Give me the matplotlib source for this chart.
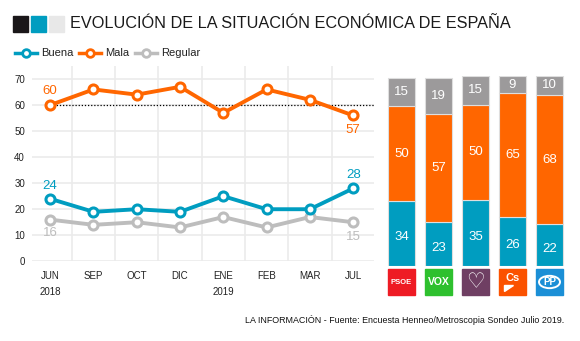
import matplotlib
matplotlib.use('Agg')
import matplotlib.pyplot as plt
from matplotlib.patches import Rectangle, Circle

plt.rcParams['font.family'] = ['Liberation Sans', 'DejaVu Sans']

# Datos
meses = ['JUN\n2018', 'SEP', 'OCT', 'DIC', 'ENE\n2019', 'FEB', 'MAR', 'JUL']
buena = [24, 19, 20, 19, 25, 20, 20, 28]
mala = [60, 66, 64, 67, 57, 66, 62, 56]
regular = [16, 14, 15, 13, 17, 13, 17, 15]
# etiquetas de inicio y fin (tal como aparecen en el gráfico)
etiq_buena = ['24', '28']
etiq_mala = ['60', '57']
etiq_regular = ['16', '15']

partidos = ['PSOE', 'VOX', 'Podemos', 'Cs', 'PP']
bar_buena = [34, 23, 35, 26, 22]
bar_mala = [50, 57, 50, 65, 68]
bar_regular = [15, 19, 15, 9, 10]

c_buena = '#009dc0'
c_mala = '#ff6600'
c_regular = '#bdbdbd'
c_regular_bar = '#9c9a9b'

W, H = 580, 341
fig = plt.figure(figsize=(W / 100, H / 100), dpi=100)


def fx(px):
    return px / W


def fy(py):
    return 1 - py / H


# Cabecera
for i, col in enumerate(['#1a1719', c_buena, '#e8e8e8']):
    fig.add_artist(Rectangle((fx(13 + i * 18), fy(32)), fx(15), 16 / H, color=col,
                             transform=fig.transFigure))
fig.text(fx(70), fy(24), 'EVOLUCIÓN DE LA SITUACIÓN ECONÓMICA DE ESPAÑA',
         fontsize=11.7, color='#1a1a1a', va='center', ha='left')

# Leyenda
leyenda = [('Buena', c_buena, 15), ('Mala', c_mala, 79), ('Regular', c_regular, 135)]
for nombre, col, x0 in leyenda:
    fig.add_artist(plt.Line2D([fx(x0), fx(x0 + 22)], [fy(53), fy(53)], color=col, lw=2.5,
                              transform=fig.transFigure))
    fig.add_artist(plt.Line2D([fx(x0 + 11)], [fy(53)], marker='o', ms=5.5, mfc='white',
                              mec=col, mew=2, transform=fig.transFigure))
    fig.text(fx(x0 + 26), fy(53), nombre, fontsize=8, va='center', ha='left', color='#222222')

# Gráfico de líneas
y0, y_top = 261.3, 66
ax = fig.add_axes([fx(32), fy(y0), fx(374 - 32), (y0 - y_top) / H])
x = range(len(meses))
for serie, col in [(regular, c_regular), (buena, c_buena), (mala, c_mala)]:
    ax.plot(x, serie, color=col, lw=2.8, marker='o', ms=6.5, mfc='white', mec=col, mew=2.2,
            zorder=3, clip_on=False)
ax.plot([0, 7.5], [60, 60], color='black', lw=0.9, ls=(0, (1, 1.5)), zorder=2)

ax.set_xlim(-0.42, 7.48)
ax.set_ylim(0, 75)
ax.set_yticks(range(0, 71, 10))
ax.set_xticks(list(x))
ax.set_xticklabels(meses, fontsize=7, linespacing=1.75, va='top', color='#222222')
ax.set_xticks([i + 0.5 for i in range(7)], minor=True)
ax.tick_params(axis='y', labelsize=7, length=0, pad=5, colors='#222222')
ax.tick_params(axis='x', which='both', length=0, pad=7)
ax.grid(axis='y', color='#ebebeb', lw=1.2)
ax.grid(axis='x', which='minor', color='#ebebeb', lw=1.2)
for s in ax.spines.values():
    s.set_visible(False)

# Etiquetas de inicio y fin
ax.text(0, 60 + 5.5, etiq_mala[0], color=c_mala, fontsize=9.5, ha='center', va='center')
ax.text(7, mala[-1] - 5.5, etiq_mala[1], color=c_mala, fontsize=9.5, ha='center', va='center')
ax.text(0, buena[0] + 5, etiq_buena[0], color=c_buena, fontsize=9.5, ha='center', va='center')
ax.text(7, buena[-1] + 5, etiq_buena[1], color=c_buena, fontsize=9.5, ha='center', va='center')
ax.text(0, regular[0] - 5.3, etiq_regular[0], color=c_regular, fontsize=9.5, ha='center', va='center')
ax.text(7, regular[-1] - 5.5, etiq_regular[1], color=c_regular, fontsize=9.5, ha='center', va='center')

# Barras apiladas por partido
bx = fig.add_axes([fx(383), fy(266), fx(185), 190 / H])
pos = range(len(partidos))
ancho = 0.73
bot2 = [a + b for a, b in zip(bar_buena, bar_mala)]
bx.bar(pos, bar_buena, width=ancho, color=c_buena, edgecolor='#dedede', lw=0.8)
bx.bar(pos, bar_mala, width=ancho, bottom=bar_buena, color=c_mala, edgecolor='#dedede', lw=0.8)
bx.bar(pos, bar_regular, width=ancho, bottom=bot2, color=c_regular_bar, edgecolor='#dedede', lw=0.8)
for i in pos:
    bx.text(i, bar_buena[i] / 2 - 2, str(bar_buena[i]), color='white', fontsize=9.5, ha='center', va='center')
    bx.text(i, bar_buena[i] + bar_mala[i] / 2, str(bar_mala[i]), color='white', fontsize=9.5, ha='center', va='center')
    bx.text(i, bot2[i] + bar_regular[i] / 2, str(bar_regular[i]), color='white', fontsize=9.5, ha='center', va='center')
bx.set_xlim(-0.5, 4.5)
bx.set_ylim(0, 100)
bx.axis('off')

# Logotipos (aproximados)
logo_col = ['#ee1b24', '#2ec02e', '#6f3f63', '#fb5200', '#1b8fd6']
for i, col in enumerate(logo_col):
    cx = 401.5 + 37 * i
    fig.add_artist(Rectangle((fx(cx - 13.5), fy(295)), fx(27), 26 / H, color=col,
                             transform=fig.transFigure))
cy = fy(282)
fig.text(fx(401.5), cy, 'PSOE', color='white', fontsize=5.5, fontweight='bold', ha='center', va='center')
fig.text(fx(438.5), cy, 'VOX', color='white', fontsize=7.5, fontweight='bold', ha='center', va='center')
fig.text(fx(475.5), cy, '♡', color='white', fontsize=15, ha='center', va='center', family='DejaVu Sans')
fig.text(fx(512.5), fy(278), 'Cs', color='white', fontsize=8, fontweight='bold', ha='center', va='center')
fig.add_artist(plt.Polygon([[fx(504), fy(291)], [fx(504), fy(285)], [fx(513), fy(285)]],
                           color='white', transform=fig.transFigure))
fig.add_artist(Circle((fx(549.5), cy), 10.5 / W, fill=False, ec='white', lw=1.4,
                      transform=fig.transFigure))
fig.text(fx(549.5), cy, 'PP', color='white', fontsize=7, fontweight='bold', ha='center', va='center')

# Fuente
fig.text(fx(564), fy(320), 'LA INFORMACIÓN - Fuente: Encuesta Henneo/Metroscopia Sondeo Julio 2019.',
         fontsize=6.4, ha='right', va='center', color='#111111')

fig.savefig('out.png', dpi=100)
